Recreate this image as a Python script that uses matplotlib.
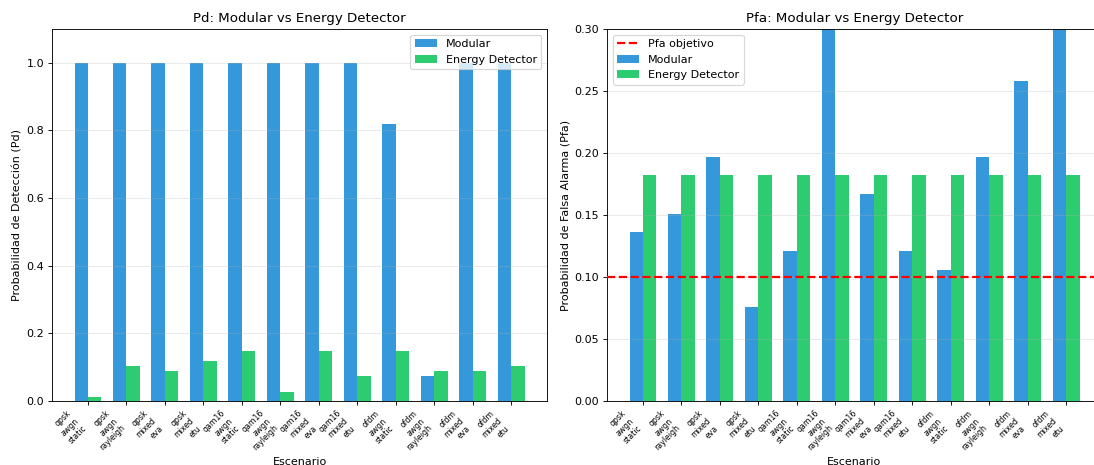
import numpy as np
import matplotlib
matplotlib.use('Agg')
import matplotlib.pyplot as plt

scenarios = [
    'qpsk_awgn_static', 'qpsk_awgn_rayleigh', 'qpsk_mixed_eva', 'qpsk_mixed_etu',
    'qam16_awgn_static', 'qam16_awgn_rayleigh', 'qam16_mixed_eva', 'qam16_mixed_etu',
    'ofdm_awgn_static', 'ofdm_awgn_rayleigh', 'ofdm_mixed_eva', 'ofdm_mixed_etu',
]

pd_modular = [1.0, 1.0, 1.0, 1.0, 1.0, 1.0, 1.0, 1.0, 0.818, 0.074, 1.0, 1.0]
pd_energy = [0.012, 0.103, 0.089, 0.119, 0.148, 0.028, 0.148, 0.074, 0.148, 0.089, 0.089, 0.103]

pfa_modular = [0.136, 0.151, 0.197, 0.076, 0.121, 0.35, 0.167, 0.121, 0.106, 0.197, 0.258, 0.35]
pfa_energy = [0.182] * 12
pfa_target = 0.1

labels = [s.replace('_', '\n') for s in scenarios]
x = np.arange(len(scenarios))
w = 0.35
c_mod = '#3498db'
c_ed = '#2ecc71'

fig = plt.figure(figsize=(1094 / 80, 465 / 80), dpi=80)
ax1 = fig.add_axes([52 / 1094, 64 / 465, 495 / 1094, 372 / 465])
ax2 = fig.add_axes([607 / 1094, 64 / 465, 495 / 1094, 372 / 465])

# Pd comparison
ax1.bar(x - w / 2, pd_modular, w, label='Modular', color=c_mod)
ax1.bar(x + w / 2, pd_energy, w, label='Energy Detector', color=c_ed)
ax1.set_ylim(0, 1.1)
ax1.set_xticks(x)
ax1.set_xticklabels(labels, rotation=45, ha='right', fontsize=7)
ax1.set_xlabel('Escenario')
ax1.set_ylabel('Probabilidad de Detección (Pd)')
ax1.set_title('Pd: Modular vs Energy Detector', fontsize=12)
ax1.legend(loc='upper right')
ax1.grid(axis='y', alpha=0.3)

# Pfa comparison
ax2.axhline(pfa_target, color='red', linestyle='--', linewidth=2, label='Pfa objetivo', zorder=3)
ax2.bar(x - w / 2, pfa_modular, w, label='Modular', color=c_mod)
ax2.bar(x + w / 2, pfa_energy, w, label='Energy Detector', color=c_ed)
ax2.set_ylim(0, 0.3)
ax2.set_xticks(x)
ax2.set_xticklabels(labels, rotation=45, ha='right', fontsize=7)
ax2.set_xlabel('Escenario')
ax2.set_ylabel('Probabilidad de Falsa Alarma (Pfa)')
ax2.set_title('Pfa: Modular vs Energy Detector', fontsize=12)
ax2.legend(loc='upper left')
ax2.grid(axis='y', alpha=0.3)

fig.savefig('out.png', dpi=80)
